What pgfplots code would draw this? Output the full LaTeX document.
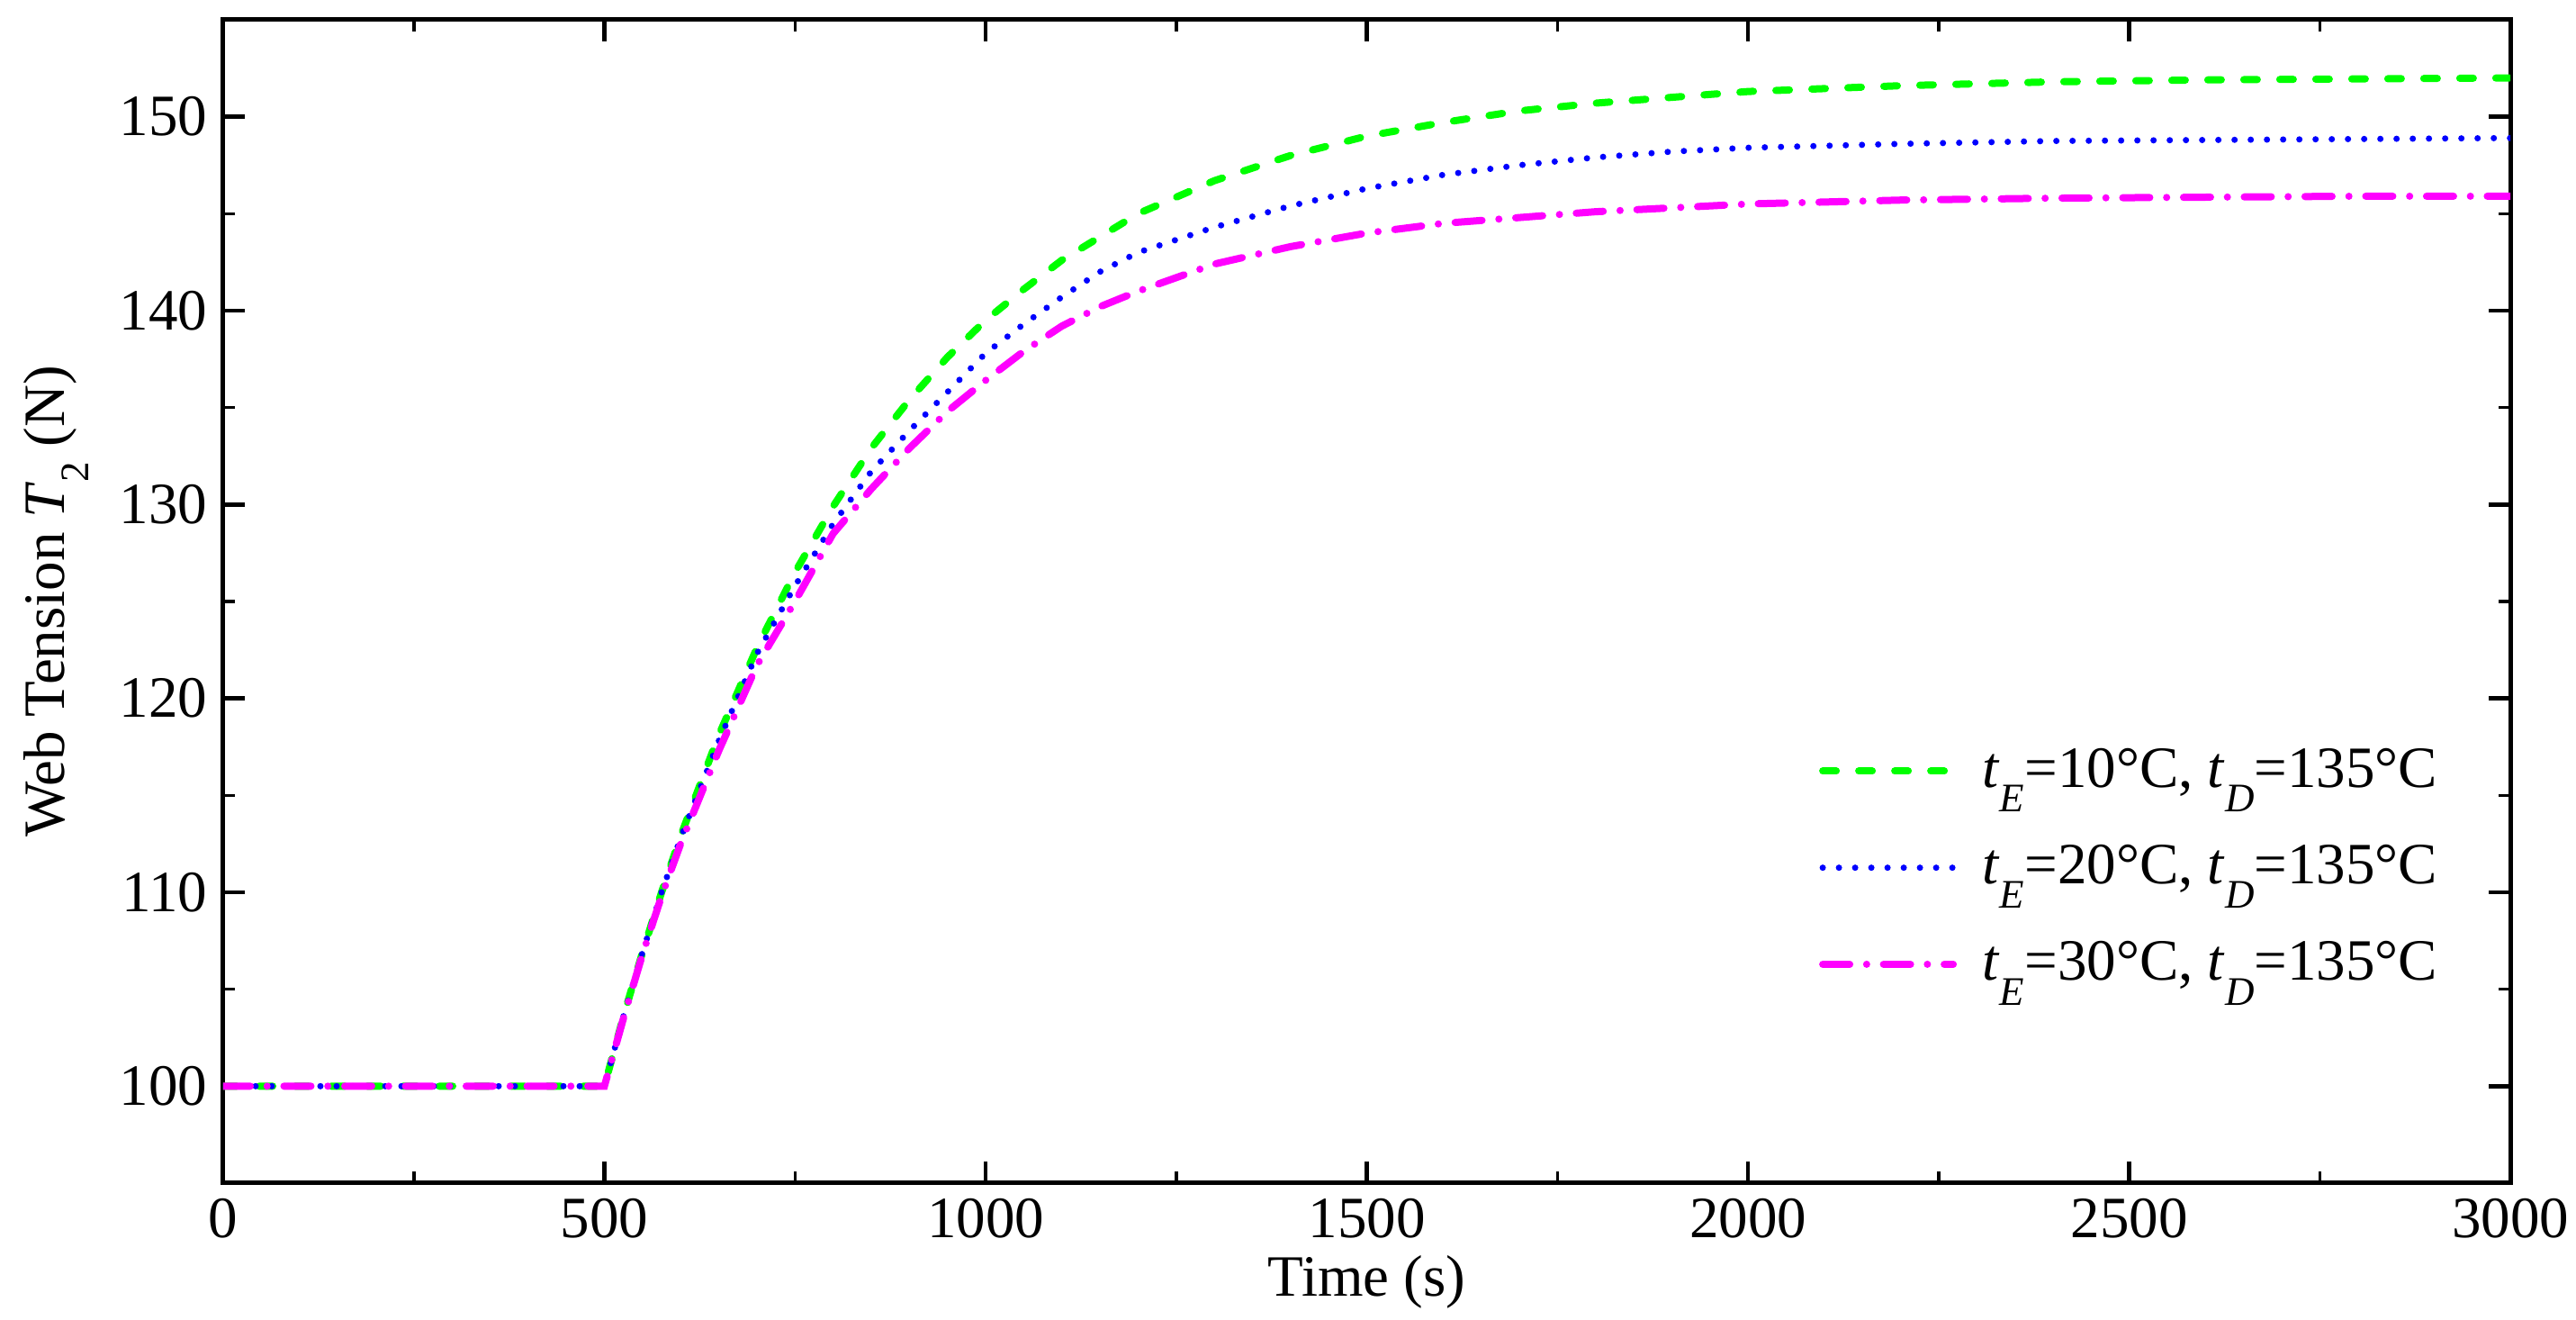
\documentclass[border=0pt]{standalone}
\usepackage{fontspec}
\setmainfont{Liberation Serif}
\usepackage{pgfplots}
\pgfplotsset{compat=1.18}
\definecolor{cgreen}{RGB}{0,255,0}
\definecolor{cblue}{RGB}{0,0,255}
\definecolor{cmag}{RGB}{255,0,255}
\newcommand{\lsub}[1]{\raisebox{-0.42em}{\fontsize{9}{9}\selectfont #1}}
\begin{document}
\begin{tikzpicture}
\begin{axis}[
 scale only axis, width=508.2pt, height=258.4pt,
 xmin=0, xmax=3000, ymin=95, ymax=155,
 xtick={0,500,...,3000}, ytick={100,110,...,150},
 minor x tick num=1, minor y tick num=1,
 tick align=inside,
 major tick length=4.8pt, minor tick length=2.6pt,
 every major tick/.style={line width=0.9pt, black},
 every minor tick/.style={line width=0.7pt, black},
 axis line style={line width=1pt},
 tick label style={font=\fontsize{13}{15.6}\selectfont},
 label style={font=\fontsize{13}{15.6}\selectfont},
 /pgf/number format/assume math mode=true,
 /pgf/number format/set thousands separator={},
 xlabel={Time (s)},
 xlabel style={yshift=3pt},
 ylabel={Web Tension \textit{T}\lsub{2} (N)},
 legend style={draw=none, fill=none, at={(0.6915,0.39)}, anchor=north west,
   row sep=7.3pt, font=\fontsize{13}{15.6}\selectfont},
 legend cell align=left,
 legend image code/.code={\draw[#1] (0pt,0pt) -- (29pt,0pt); \path (32.7pt,0pt);},
]
\addplot[cgreen, line width=1.6pt, line cap=round, dash pattern=on 3pt off 5pt] coordinates {
(0,100) (250,100) (500,100) (525,103.6) (550,106.9) (575,110.0) (600,112.9) (650,118.1)
(700,122.6) (750,126.5) (800,129.9) (850,132.9) (900,135.4) (950,137.6) (1000,139.5)
(1050,141.1) (1100,142.6) (1200,145.0) (1300,146.7) (1400,148.0) (1500,149.0)
(1600,149.7) (1700,150.3) (1800,150.7) (1900,151.0) (2000,151.3) (2200,151.6)
(2400,151.8) (2600,151.9) (2800,151.95) (3000,152.0)};
\addlegendentry{\textit{t}\lsub{\textit{E}}=10°C, \textit{t}\lsub{\textit{D}}=135°C}
\addplot[cblue, line width=1.4pt, line cap=round, dash pattern=on 0pt off 3.6pt] coordinates {
(0,100) (250,100) (500,100) (525,103.6) (550,106.9) (575,110.0) (600,112.8) (650,117.8)
(700,122.3) (750,125.8) (800,129.0) (850,131.7) (900,133.8) (950,135.8) (1000,137.8)
(1050,139.3) (1100,140.7) (1150,142.0) (1200,143.0) (1300,144.3) (1400,145.4)
(1500,146.3) (1600,147.0) (1700,147.5) (1800,147.9) (1900,148.2) (2000,148.4)
(2200,148.6) (2400,148.75) (2600,148.8) (2800,148.85) (3000,148.9)};
\addlegendentry{\textit{t}\lsub{\textit{E}}=20°C, \textit{t}\lsub{\textit{D}}=135°C}
\addplot[cmag, line width=1.6pt, line cap=round, dash pattern=on 6pt off 3.75pt on 0pt off 3.75pt] coordinates {
(0,100) (250,100) (500,100) (525,103.5) (550,106.8) (575,109.8) (600,112.5) (650,117.3)
(700,121.7) (750,125.0) (800,128.5) (850,130.8) (900,132.9) (950,134.8) (1000,136.4)
(1050,137.9) (1100,139.2) (1150,140.2) (1200,141.0) (1250,141.7) (1300,142.4)
(1400,143.3) (1500,144.0) (1600,144.5) (1700,144.8) (1800,145.1) (1900,145.3)
(2000,145.5) (2200,145.7) (2400,145.8) (2600,145.85) (2800,145.9) (3000,145.9)};
\addlegendentry{\textit{t}\lsub{\textit{E}}=30°C, \textit{t}\lsub{\textit{D}}=135°C}
\end{axis}
\pgfresetboundingbox
\path ([shift={(-49.6pt,-30.4pt)}]current axis.south west) rectangle ([shift={(14.6pt,4.4pt)}]current axis.north east);
\end{tikzpicture}
\end{document}
